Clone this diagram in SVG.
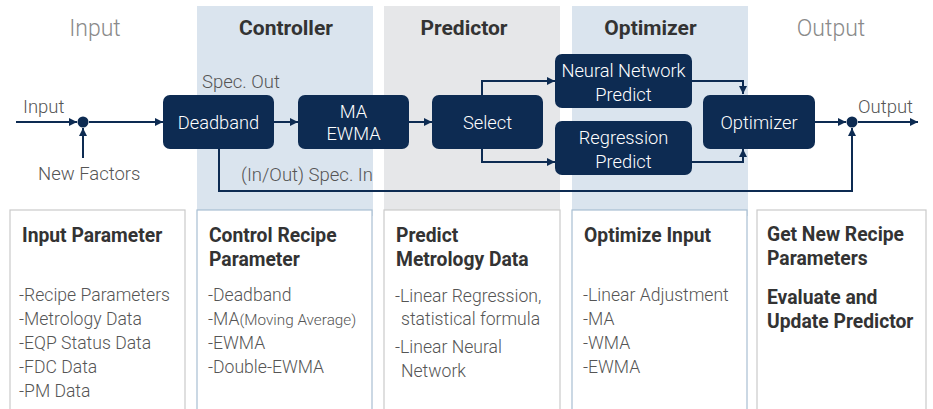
<svg xmlns="http://www.w3.org/2000/svg" width="933" height="409" viewBox="0 0 933 409">
<style>
.hdr{font-family:Roboto,"Liberation Sans",sans-serif;font-size:21px;text-anchor:middle}
.hl{fill:#8a8a8a;font-weight:300;font-size:23px}
.hb{fill:#333;font-weight:700}
.node rect{fill:#0d2b52}
.nt{font-family:Roboto,"Liberation Sans",sans-serif;font-size:18.3px;font-weight:300;fill:#fff;text-anchor:middle}
.lbl{font-family:Roboto,"Liberation Sans",sans-serif;font-size:18.5px;font-weight:300;fill:#555}
.card{fill:#fff;stroke-width:1.2}
.cg{stroke:#cacaca}
.cb{stroke:#a8bfd2}
.ct{font-family:Roboto,"Liberation Sans",sans-serif;font-size:19.3px;font-weight:700;fill:#333}
.cl{font-family:Roboto,"Liberation Sans",sans-serif;font-size:17.6px;font-weight:300;fill:#555}
.sm{font-size:15.3px}
.conn path{fill:none;stroke:#0d2b52;stroke-width:2}
</style>
<defs>
<marker id="ah" viewBox="0 0 8 8" refX="8" refY="4" markerWidth="8" markerHeight="8" markerUnits="userSpaceOnUse" orient="auto">
<path d="M0,0 L8,4 L0,8 Z" fill="#0d2b52"/>
</marker>
</defs>
<rect width="933" height="409" fill="#fff"/>
<!-- bands -->
<rect x="197" y="6" width="176" height="210" fill="#dae4ee"/>
<rect x="384" y="6" width="176" height="210" fill="#e6e7e9"/>
<rect x="572" y="6" width="176" height="210" fill="#dae4ee"/>
<!-- headers -->
<text class="hdr hl" x="95" y="36">Input</text>
<text class="hdr hb" x="286" y="35">Controller</text>
<text class="hdr hb" x="464" y="35">Predictor</text>
<text class="hdr hb" x="650.5" y="35">Optimizer</text>
<text class="hdr hl" x="831" y="36">Output</text>
<!-- connectors -->
<g class="conn" id="connectors">
<path d="M16,122 H77" marker-end="url(#ah)"/>
<path d="M83,158 V128" marker-end="url(#ah)"/>
<path d="M89,122 H163" marker-end="url(#ah)"/>
<path d="M274,122 H298" marker-end="url(#ah)"/>
<path d="M409,122 H432" marker-end="url(#ah)"/>
<path d="M482,95 V81 H555" marker-end="url(#ah)"/>
<path d="M482,149 V162 H555" marker-end="url(#ah)"/>
<path d="M692,81 H743 V94" marker-end="url(#ah)"/>
<path d="M692,162 H743 V149" marker-end="url(#ah)"/>
<path d="M815,122 H846" marker-end="url(#ah)"/>
<path d="M858,122 H918" marker-end="url(#ah)"/>
<path d="M219,149 V191 H852 V128" marker-end="url(#ah)"/>
<circle cx="83" cy="122" r="5.5" fill="#0d2b52"/>
<circle cx="852" cy="122" r="5.5" fill="#0d2b52"/>
</g>
<!-- labels -->
<text class="lbl" x="23" y="113">Input</text>
<text class="lbl" x="38" y="180">New Factors</text>
<text class="lbl" x="202" y="88">Spec. Out</text>
<text class="lbl" x="241" y="181">(In/Out) Spec. In</text>
<text class="lbl" x="858" y="113">Output</text>
<!-- nodes -->
<g class="node" id="deadband"><rect x="163" y="95" width="111" height="54" rx="7"/><text class="nt" x="218.5" y="129">Deadband</text></g>
<g class="node" id="ma-ewma"><rect x="298" y="95" width="111" height="54" rx="7"/><text class="nt" x="353.5" y="118">MA</text><text class="nt" x="353.5" y="140">EWMA</text></g>
<g class="node" id="select"><rect x="432" y="95" width="111" height="54" rx="7"/><text class="nt" x="487.5" y="129">Select</text></g>
<g class="node" id="nn-predict"><rect x="555" y="54" width="137" height="54" rx="7"/><text class="nt" x="623.5" y="77">Neural Network</text><text class="nt" x="623.5" y="101">Predict</text></g>
<g class="node" id="reg-predict"><rect x="555" y="121" width="137" height="54" rx="7"/><text class="nt" x="623.5" y="144">Regression</text><text class="nt" x="623.5" y="168">Predict</text></g>
<g class="node" id="optimizer"><rect x="703" y="95" width="112" height="54" rx="7"/><text class="nt" x="759" y="129">Optimizer</text></g>
<!-- cards -->
<g id="card-input">
<rect class="card cg" x="10" y="210" width="175" height="215"/>
<text class="ct" x="22" y="242">Input Parameter</text>
<text class="cl" x="19" y="301">-Recipe Parameters</text>
<text class="cl" x="19" y="325">-Metrology Data</text>
<text class="cl" x="19" y="349">-EQP Status Data</text>
<text class="cl" x="19" y="373">-FDC Data</text>
<text class="cl" x="19" y="397">-PM Data</text>
</g>
<g id="card-controller">
<rect class="card cb" x="197" y="210" width="175" height="215"/>
<text class="ct" x="209" y="242">Control Recipe</text>
<text class="ct" x="209" y="266">Parameter</text>
<text class="cl" x="208" y="301">-Deadband</text>
<text class="cl" x="208" y="325">-MA<tspan class="sm">(Moving Average)</tspan></text>
<text class="cl" x="208" y="349">-EWMA</text>
<text class="cl" x="208" y="373">-Double-EWMA</text>
</g>
<g id="card-predictor">
<rect class="card cg" x="384" y="210" width="176" height="215"/>
<text class="ct" x="396" y="242">Predict</text>
<text class="ct" x="396" y="266">Metrology Data</text>
<text class="cl" x="395" y="302">-Linear Regression,</text>
<text class="cl" x="401" y="325">statistical formula</text>
<text class="cl" x="395" y="353">-Linear Neural</text>
<text class="cl" x="401" y="377">Network</text>
</g>
<g id="card-optimizer">
<rect class="card cb" x="572" y="210" width="175" height="215"/>
<text class="ct" x="584" y="242">Optimize Input</text>
<text class="cl" x="583" y="301">-Linear Adjustment</text>
<text class="cl" x="583" y="325">-MA</text>
<text class="cl" x="583" y="349">-WMA</text>
<text class="cl" x="583" y="373">-EWMA</text>
</g>
<g id="card-output">
<rect class="card cg" x="757" y="210" width="169" height="215"/>
<text class="ct" x="767" y="241">Get New Recipe</text>
<text class="ct" x="767" y="265">Parameters</text>
<text class="ct" x="767" y="304">Evaluate and</text>
<text class="ct" x="767" y="328">Update Predictor</text>
</g>
</svg>
